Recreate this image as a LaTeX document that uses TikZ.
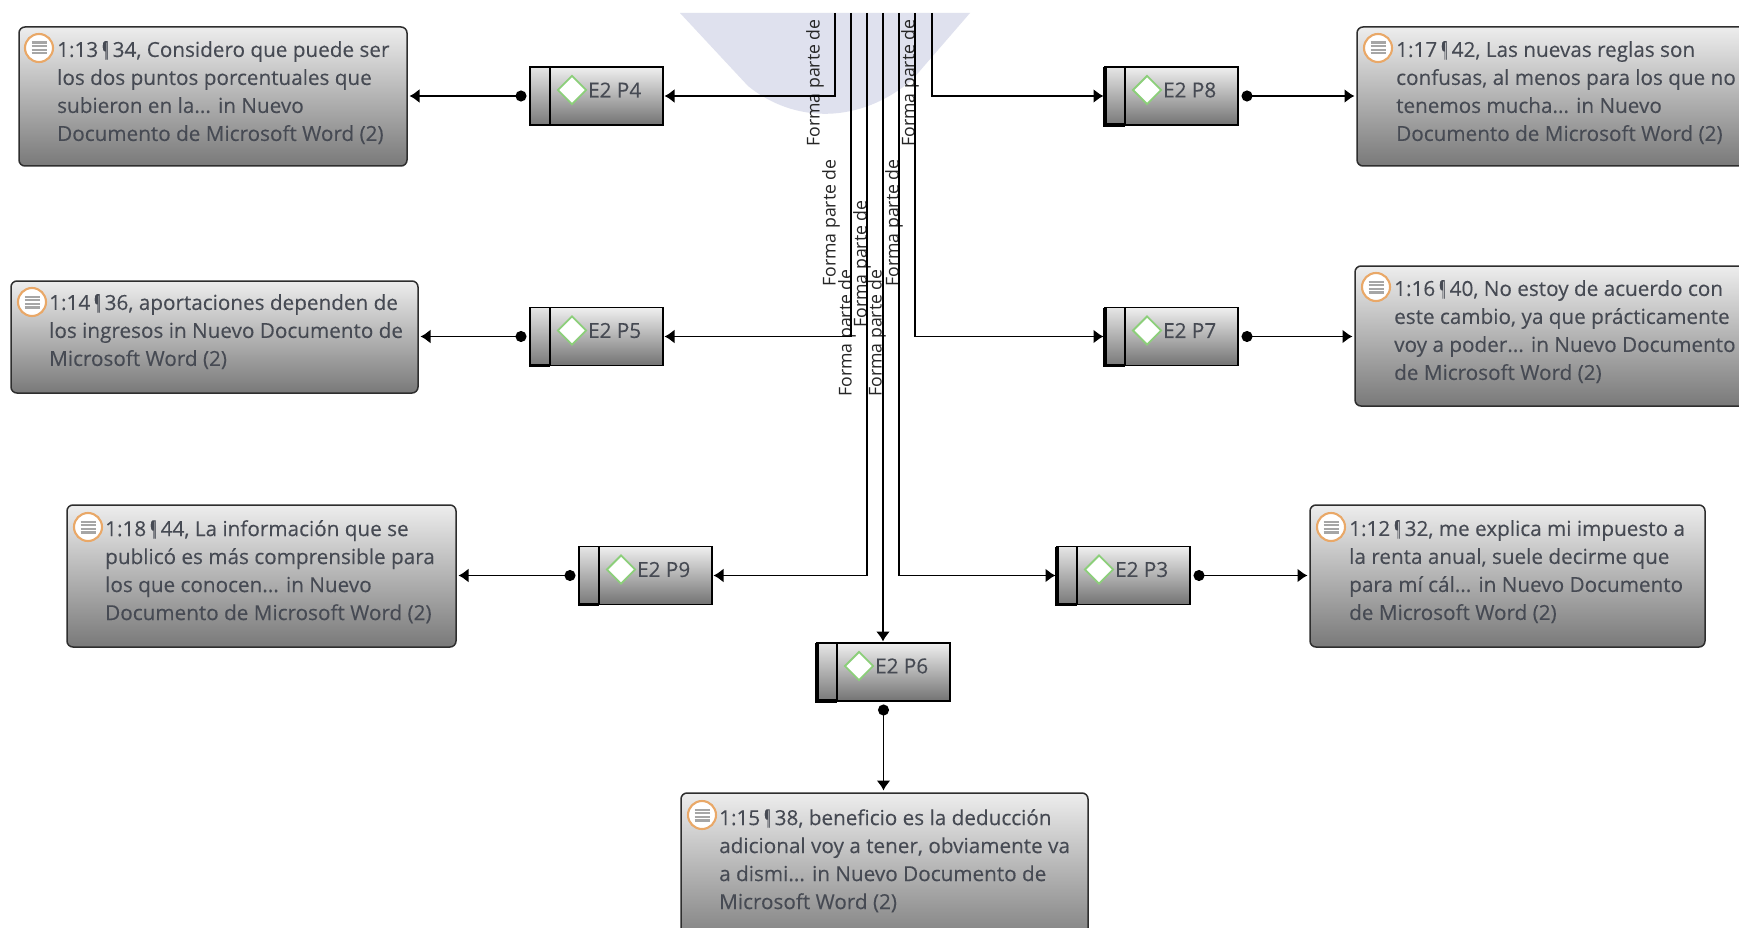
\documentclass[tikz,border=0pt]{standalone}
\usepackage{fontspec}
\setmainfont{Open Sans}
\newfontfamily\qf[FakeBold=0.2]{Open Sans}
\usetikzlibrary{arrows.meta,shapes.geometric}
\definecolor{wm}{HTML}{DFE1EE}
\definecolor{tx}{HTML}{464A53}
\definecolor{edge}{HTML}{2E2E2E}
\definecolor{ic}{HTML}{E9A868}
\definecolor{dia}{HTML}{8CCF7A}
\newcommand{\pilc}{\kern4.2pt\scalebox{0.45}[1]{¶}\kern4.2pt}
\tikzset{
 qb/.style={draw=edge,line width=1.5pt,rounded corners=6pt,top color=gray!14,bottom color=gray!95!black,anchor=north west,inner sep=0pt,outer sep=0pt},
 qt/.style={anchor=north west,inner sep=0pt,align=left,text=tx,font=\qf\fontsize{20.7}{28}\selectfont},
 cb/.style={draw=black,line width=1.8pt,top color=gray!12,bottom color=gray!90!black,minimum width=133pt,minimum height=58pt,anchor=north west,inner sep=0pt,outer sep=0pt},
 cs/.style={draw=black,line width=1.8pt,top color=gray!20,bottom color=gray!95!black,minimum width=20pt,minimum height=58pt,anchor=north west,inner sep=0pt,outer sep=0pt},
 ct/.style={anchor=west,inner sep=0pt,text=tx,font=\qf\fontsize{20.7}{24}\selectfont},
 dm/.style={diamond,draw=dia,fill=white,line width=1.9pt,minimum width=29pt,minimum height=29pt,inner sep=0pt},
 ri/.style={circle,draw=ic,fill=white,line width=2.1pt,minimum size=28pt,inner sep=0pt},
 fp/.style={rotate=90,inner sep=0pt,text=black!85,font=\fontsize{17.7}{20}\selectfont},
 link/.style={draw=black,line width=1.7pt,-{Latex[length=10pt,width=14pt]},shorten >=1.5pt},
 dlink/.style={draw=black,line width=1.7pt,{Circle[length=11pt,width=11pt]}-{Latex[length=10pt,width=14pt]},shorten >=2.5pt,shorten <=3.5pt},
}
% name, x1,y1,x2,y2, icon x,y, text x,y ; text follows as the node's own argument
\newcommand{\qbx}[9]{%
 \node[qb,minimum width={(#4-#2)*1pt},minimum height={(#5-#3)*1pt}] (#1) at (#2,#3) {};
 \node[ri] (#1i) at (#6,#7) {};
 \foreach \k in {-5.4,-1.8,1.8,5.4} {\draw[draw=gray!70,line width=2.2pt] ([xshift=-7.5pt,yshift=-\k pt]#1i.center) -- ([xshift=7.5pt,yshift=-\k pt]#1i.center);}
 \node[qt] (#1t) at (#8,#9)}
% name, x, y, label, left rule width
\newcommand{\cbx}[5]{%
 \node[cb] (#1) at (#2,#3) {};
 \node[cs] (#1s) at (#2,#3) {};
 \draw[black,line width=#5pt] (#1s.north west) -- (#1s.south west) -- (#1s.south east);
 \node[dm] (#1d) at ([xshift=42pt,yshift=-23pt]#1.north west) {};
 \node[ct] (#1t) at ([xshift=58pt,yshift=-23pt]#1.north west) {#4};}
\begin{document}
\begin{tikzpicture}[x=1pt,y=-1pt]
\useasboundingbox (0,0) rectangle (1739,928);
\fill[white] (0,0) rectangle (1739,928);
\fill[wm] (680,13) -- (748,86) .. controls (795,124) and (860,124) .. (912,80) -- (970,13) -- cycle;
% labels
\node[fp] (f1) at (815,83) {Forma parte de};
\node[fp] (f2) at (831,223) {Forma parte de};
\node[fp] (f3) at (847,333) {Forma parte de};
\node[fp] (f4) at (862,264) {Forma parte de};
\node[fp] (f5) at (877,333) {Forma parte de};
\node[fp] (f6) at (894,223) {Forma parte de};
\node[fp] (f7) at (910,83) {Forma parte de};
% boxes
\qbx{b13}{19}{27}{407}{166}{39}{48}{57}{41} {1:13\pilc 34, Considero que puede ser\\los dos puntos porcentuales que\\subieron en la... in Nuevo\\Documento de Microsoft Word (2)};
\qbx{b14}{11}{281}{418}{393}{32}{302}{49}{294} {1:14\pilc 36, aportaciones dependen de\\los ingresos in Nuevo Documento de\\Microsoft Word (2)};
\qbx{b18}{67}{505}{456}{647}{88}{527}{105}{520} {1:18\pilc 44, La información que se\\publicó es más comprensible para\\los que conocen... in Nuevo\\Documento de Microsoft Word (2)};
\qbx{b17}{1357}{27}{1760}{166}{1378}{48}{1396}{41} {1:17\pilc 42, Las nuevas reglas son\\confusas, al menos para los que no\\tenemos mucha... in Nuevo\\Documento de Microsoft Word (2)};
\qbx{b16}{1355}{266}{1760}{406}{1376}{287}{1394}{280} {1:16\pilc 40, No estoy de acuerdo con\\este cambio, ya que prácticamente\\voy a poder... in Nuevo Documento\\de Microsoft Word (2)};
\qbx{b12}{1310}{505}{1705}{647}{1331}{527}{1349}{520} {1:12\pilc 32, me explica mi impuesto a\\la renta anual, suele decirme que\\para mí cál... in Nuevo Documento\\de Microsoft Word (2)};
\qbx{b15}{681}{793}{1088}{950}{702}{815}{719}{809} {1:15\pilc 38, beneficio es la deducción\\adicional voy a tener, obviamente va\\a dismi... in Nuevo Documento de\\Microsoft Word (2)};
\cbx{p4}{530}{67}{E2 P4}{2.6}
\cbx{p5}{530}{307.5}{E2 P5}{2.6}
\cbx{p9}{579}{546.5}{E2 P9}{2.6}
\cbx{p8}{1105}{67}{E2 P8}{3.4}
\cbx{p7}{1105}{307.5}{E2 P7}{3.4}
\cbx{p3}{1057}{546.5}{E2 P3}{3.4}
\cbx{p6}{817}{643}{E2 P6}{3.4}
% top ends
\coordinate (t1) at (835,13);
\coordinate (t2) at (851,13);
\coordinate (t3) at (867,13);
\coordinate (t4) at (883,13);
\coordinate (t5) at (899,13);
\coordinate (t6) at (915,13);
\coordinate (t7) at (932,13);
\draw[link] (t1) |- (p4.east);
\draw[link] (t2) |- (p5.east);
\draw[link] (t3) |- (p9.east);
\draw[link] (t4) -- (p6.north -| t4);
\draw[link] (t5) |- (p3.west);
\draw[link] (t6) |- (p7.west);
\draw[link] (t7) |- (p8.west);
\draw[dlink] (p4.west) -- (b13.east |- p4.west);
\draw[dlink] (p5.west) -- (b14.east |- p5.west);
\draw[dlink] (p9.west) -- (b18.east |- p9.west);
\draw[dlink] (p8.east) -- (b17.west |- p8.east);
\draw[dlink] (p7.east) -- (b16.west |- p7.east);
\draw[dlink] (p3.east) -- (b12.west |- p3.east);
\draw[dlink] (p6.south) -- (b15.north -| p6.south);
\end{tikzpicture}
\end{document}
